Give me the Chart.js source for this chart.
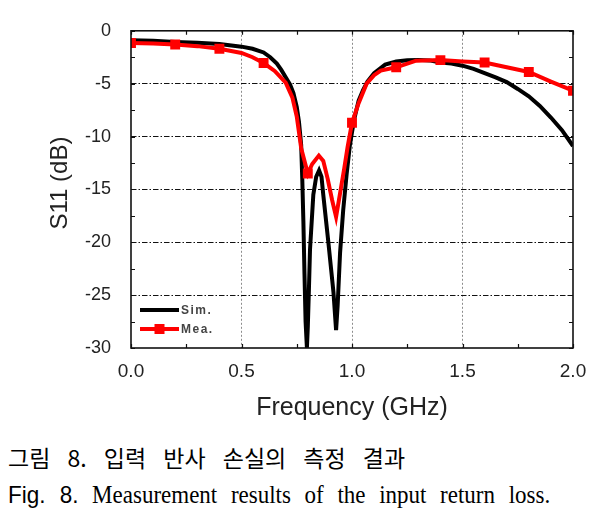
<!DOCTYPE html>
<html><head><meta charset="utf-8">
<script src="https://cdn.jsdelivr.net/npm/chart.js@4.4.1/dist/chart.umd.min.js"></script>
<style>
html,body{margin:0;padding:0;background:#fff;width:601px;height:520px;overflow:hidden;position:relative}
#c{position:absolute;left:0;top:0}
.cap{position:absolute;left:8px;white-space:nowrap;transform-origin:0 0;color:#000}
#ko{top:446px;font-family:"Noto Sans CJK KR";font-size:23px;line-height:23px;word-spacing:12px;transform:scaleY(1.0)}
#en{top:482px;font-family:"Liberation Serif";font-size:23px;line-height:23px;word-spacing:7.9px;transform:scaleY(1.08)}
#en .s{font-family:"Liberation Sans";font-size:22.5px}
</style></head>
<body>
<canvas id="c" width="601" height="440"></canvas>
<div class="cap" id="ko">그림 8. 입력 반사 손실의 측정 결과</div>
<div class="cap" id="en"><span class="s">Fig. 8.</span> Measurement results of the input return loss.</div>
<script>
// ---- data ----
const simFreq = [0, 0.1, 0.2, 0.3, 0.4, 0.5, 0.55, 0.6, 0.63, 0.66, 0.68, 0.7, 0.72, 0.735, 0.75, 0.76, 0.77, 0.775, 0.78, 0.785, 0.79, 0.796, 0.8, 0.805, 0.81, 0.825, 0.838, 0.851, 0.862, 0.87, 0.893, 0.916, 0.928, 0.935, 0.946, 0.96, 0.976, 0.99, 1.0, 1.013, 1.03, 1.05, 1.07, 1.1, 1.15, 1.2, 1.25, 1.3, 1.35, 1.4, 1.45, 1.5, 1.55, 1.6, 1.65, 1.7, 1.75, 1.8, 1.85, 1.9, 1.95, 2.0];
const simS11 = [-0.9, -0.95, -1.05, -1.12, -1.25, -1.5, -1.7, -2.05, -2.5, -3.1, -3.7, -4.4, -5.1, -5.9, -7.2, -8.6, -10.8, -14, -18, -23, -27.5, -30, -28, -24.5, -20.7, -15.5, -13.8, -13.2, -13.8, -15.5, -20, -24.7, -28.3, -26, -21, -17, -13.5, -10.9, -9.6, -8.1, -6.6, -5.6, -4.8, -4.0, -3.2, -2.9, -2.78, -2.75, -2.8, -3.0, -3.1, -3.3, -3.6, -4.0, -4.4, -4.85, -5.5, -6.2, -7.1, -8.2, -9.4, -10.9];
const meaFreq = [0, 0.1, 0.2, 0.3, 0.4, 0.5, 0.55, 0.6, 0.65, 0.7, 0.73, 0.75, 0.77, 0.8, 0.82, 0.85, 0.87, 0.89, 0.91, 0.928, 0.945, 0.965, 0.98, 1.0, 1.03, 1.066, 1.1, 1.13, 1.2, 1.29, 1.4, 1.5, 1.6, 1.7, 1.8, 1.9, 2.0];
const meaS11 = [-1.15, -1.2, -1.3, -1.45, -1.7, -2.1, -2.5, -3.05, -3.8, -4.9, -6.3, -8.1, -11.1, -13.5, -12.6, -11.8, -12.3, -14, -16, -17.6, -15.5, -13, -11, -8.7, -6.85, -5.0, -4.2, -3.76, -3.45, -2.83, -2.77, -2.9, -3.0, -3.45, -3.9, -4.8, -5.67];
const seriesLabels = ['Sim.', 'Mea.'];
const xLabelTicks = [0, 0.5, 1.0, 1.5, 2.0];
const xGridTicks = [0.5, 1.0, 1.5];
const xTitle = 'Frequency (GHz)';
const yTitle = 'S11 (dB)';

const toPts = (xs, ys) => xs.map((x, i) => ({x: x, y: ys[i]}));
const near = (a, b) => Math.abs(a - b) < 1e-6;
const isMarker = v => near(v * 5, Math.round(v * 5));
const FONT = 'Liberation Sans';

const framePlugin = {
  id: 'frame',
  afterDraw(chart) {
    const {ctx, chartArea: a, scales} = chart;
    const x = scales.x, y = scales.y;
    ctx.save();
    // inward ticks
    ctx.strokeStyle = '#111';
    ctx.lineWidth = 1.2;
    ctx.beginPath();
    x.ticks.forEach(t => {
      const px = Math.round(x.getPixelForValue(t.value)) + 0.5;
      ctx.moveTo(px, a.bottom); ctx.lineTo(px, a.bottom - 4);
      ctx.moveTo(px, a.top); ctx.lineTo(px, a.top + 4);
    });
    y.ticks.forEach(t => {
      const py = Math.round(y.getPixelForValue(t.value)) + 0.5;
      ctx.moveTo(a.left, py); ctx.lineTo(a.left + 4, py);
      ctx.moveTo(a.right, py); ctx.lineTo(a.right - 4, py);
    });
    ctx.stroke();
    // frame
    ctx.lineWidth = 1.6;
    ctx.strokeStyle = '#111';
    ctx.strokeRect(a.left, a.top, a.right - a.left, a.bottom - a.top);
    // y title
    ctx.save();
    ctx.translate(60, 183);
    ctx.rotate(-Math.PI / 2);
    ctx.font = '24px "' + FONT + '"';
    ctx.fillStyle = '#222';
    ctx.textAlign = 'center';
    ctx.textBaseline = 'middle';
    ctx.fillText(yTitle, 0, 0);
    ctx.restore();
    // legend
    const ds = chart.data.datasets;
    const rows = [a.bottom - 38, a.bottom - 19];
    const x0 = a.left + 9, x1 = a.left + 48;
    ds.forEach((d, i) => {
      const ly = rows[i];
      ctx.strokeStyle = d.borderColor;
      ctx.lineWidth = d.borderWidth;
      ctx.beginPath(); ctx.moveTo(x0, ly); ctx.lineTo(x1, ly); ctx.stroke();
      if (d.pointStyle === 'rect') {
        ctx.fillStyle = d.borderColor;
        ctx.fillRect((x0 + x1) / 2 - 5, ly - 5, 10, 10);
      }
      ctx.fillStyle = '#444';
      ctx.font = 'bold 12px "' + FONT + '"';
      ctx.letterSpacing = '1.5px';
      ctx.textAlign = 'left';
      ctx.textBaseline = 'middle';
      ctx.fillText(d.label, x1 + 2, ly + 0.5);
      ctx.letterSpacing = '0px';
    });
    ctx.restore();
  }
};

new Chart(document.getElementById('c'), {
  type: 'line',
  data: {
    datasets: [
      {label: seriesLabels[0], data: toPts(simFreq, simS11), borderColor: '#000000', backgroundColor: '#000000',
       borderWidth: 4, pointRadius: 0, tension: 0, clip: 0, order: 1},
      {label: seriesLabels[1], data: toPts(meaFreq, meaS11), borderColor: '#ff0000', backgroundColor: '#ff0000',
       borderWidth: 4, pointStyle: 'rect', pointRadius: c => (c.raw && isMarker(c.raw.x)) ? 7 : 0,
       pointBorderWidth: 0, tension: 0, clip: 0, order: 0}
    ]
  },
  options: {
    responsive: false, animation: false, devicePixelRatio: 1,
    layout: {padding: {top: 22, right: 28, left: 0, bottom: 0}},
    plugins: {legend: {display: false}, tooltip: {enabled: false}},
    scales: {
      x: {
        type: 'linear', min: 0, max: 2,
        afterFit: s => { s.height = 92; },
        ticks: {stepSize: 0.25, autoSkip: false, maxRotation: 0, padding: 12.5, color: '#222',
          font: {family: FONT, size: 19},
          callback: v => xLabelTicks.some(t => near(t, v)) ? v.toFixed(1) : ''},
        grid: {drawTicks: false, lineWidth: 1,
          color: c => (c.tick && xGridTicks.some(t => near(t, c.tick.value))) ? '#8c8c8c' : 'rgba(0,0,0,0)'},
        border: {display: false, dash: [2, 2]},
        title: {display: true, text: xTitle, color: '#222', font: {family: FONT, size: 25}, padding: {top: 0, bottom: 17}}
      },
      y: {
        type: 'linear', min: -30, max: 0,
        afterFit: s => { s.width = 131; },
        ticks: {stepSize: 2.5, autoSkip: false, padding: 20, color: '#222',
          font: {family: FONT, size: 18},
          callback: v => near(v / 5, Math.round(v / 5)) ? String(Math.round(v)) : ''},
        grid: {drawTicks: false, lineWidth: 1,
          color: c => {
            const v = c.tick ? c.tick.value : NaN;
            return (near(v / 5, Math.round(v / 5)) && !near(v, 0) && !near(v, -30)) ? '#111' : 'rgba(0,0,0,0)';
          }},
        border: {display: false, dash: [5.5, 2, 1.5, 2]}
      }
    }
  },
  plugins: [framePlugin]
});
</script>
</body></html>
